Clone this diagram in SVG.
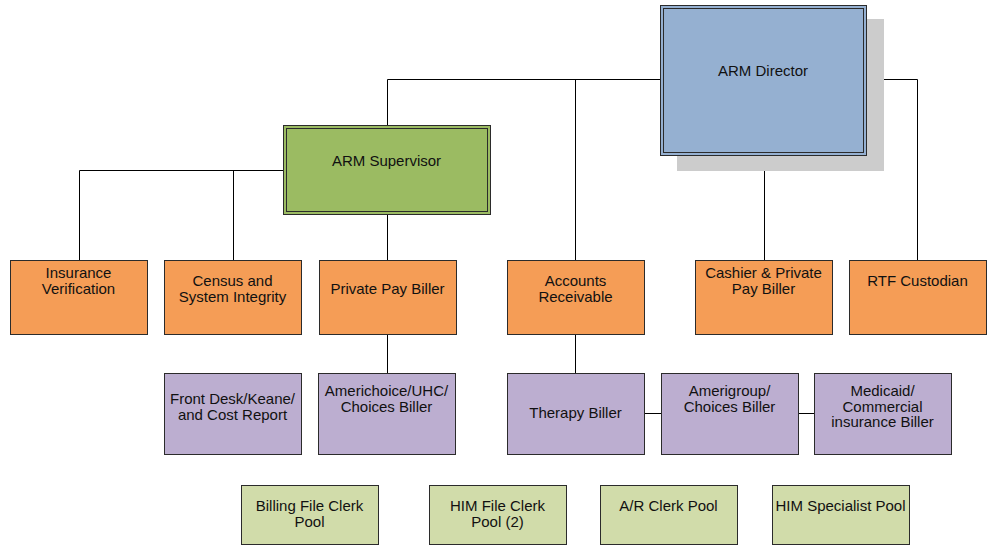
<svg xmlns="http://www.w3.org/2000/svg" width="988" height="546" viewBox="0 0 988 546">
  <style>
    .box { stroke: #2b2b2b; stroke-width: 1; }
    .dir { fill: #95b0d1; }
    .sup { fill: #9bbb62; }
    .ora { fill: #f59d56; }
    .pur { fill: #bcaed0; }
    .grn { fill: #d1dcaa; }
    .inner { fill: none; stroke: #2b2b2b; stroke-width: 1; }
    .conn { stroke: #000; stroke-width: 1; fill: none; }
    text { font-family: "Liberation Sans", Arial, sans-serif; font-size: 15px; fill: #111; text-anchor: middle; }
  </style>

  <!-- connectors -->
  <g id="connectors" class="conn">
    <polyline points="387.5,125 387.5,79.5 660,79.5"/>
    <line x1="575.5" y1="79.5" x2="575.5" y2="260"/>
    <polyline points="866,79.5 917.5,79.5 917.5,260"/>
    <line x1="764.5" y1="155" x2="764.5" y2="260"/>
    <polyline points="283,170.5 79.5,170.5 79.5,260"/>
    <line x1="233.5" y1="170.5" x2="233.5" y2="260"/>
    <line x1="387.5" y1="215" x2="387.5" y2="260"/>
    <line x1="387.5" y1="335" x2="387.5" y2="373"/>
    <line x1="575.5" y1="335" x2="575.5" y2="373"/>
    <line x1="644" y1="413.5" x2="661" y2="413.5"/>
    <line x1="798" y1="413.5" x2="814" y2="413.5"/>
  </g>

  <!-- top level -->
  <g id="arm-director">
    <rect x="677" y="19" width="207" height="152" fill="#cccccc"/>
    <rect class="box dir" x="660.5" y="5.5" width="206" height="150"/>
    <rect class="inner" x="663.5" y="8.5" width="200" height="144"/>
    <text x="763" y="76">ARM Director</text>
  </g>

  <g id="arm-supervisor">
    <rect class="box sup" x="283.5" y="125.5" width="207" height="89"/>
    <rect class="inner" x="286.5" y="128.5" width="201" height="83"/>
    <text x="386.5" y="166">ARM Supervisor</text>
  </g>

  <!-- second row -->
  <g id="insurance-verification">
    <rect class="box ora" x="10.5" y="260.5" width="137" height="74"/>
    <text x="78.5" y="278">Insurance</text>
    <text x="78.5" y="294">Verification</text>
  </g>
  <g id="census-system-integrity">
    <rect class="box ora" x="164.5" y="260.5" width="137" height="74"/>
    <text x="232.5" y="286">Census and</text>
    <text x="232.5" y="302">System Integrity</text>
  </g>
  <g id="private-pay-biller">
    <rect class="box ora" x="319.5" y="260.5" width="137" height="74"/>
    <text x="387.5" y="294">Private Pay Biller</text>
  </g>
  <g id="accounts-receivable">
    <rect class="box ora" x="507.5" y="260.5" width="137" height="74"/>
    <text x="575.5" y="286">Accounts</text>
    <text x="575.5" y="302">Receivable</text>
  </g>
  <g id="cashier-private-pay">
    <rect class="box ora" x="695.5" y="260.5" width="137" height="74"/>
    <text x="763.5" y="278">Cashier &amp; Private</text>
    <text x="763.5" y="294">Pay Biller</text>
  </g>
  <g id="rtf-custodian">
    <rect class="box ora" x="849.5" y="260.5" width="137" height="74"/>
    <text x="917.5" y="286">RTF Custodian</text>
  </g>

  <!-- third row -->
  <g id="front-desk">
    <rect class="box pur" x="164.5" y="373.5" width="137" height="81"/>
    <text x="232.5" y="404">Front Desk/Keane/</text>
    <text x="232.5" y="420">and Cost Report</text>
  </g>
  <g id="americhoice-biller">
    <rect class="box pur" x="318.5" y="373.5" width="137" height="81"/>
    <text x="386.5" y="396">Americhoice/UHC/</text>
    <text x="386.5" y="412">Choices Biller</text>
  </g>
  <g id="therapy-biller">
    <rect class="box pur" x="507.5" y="373.5" width="137" height="81"/>
    <text x="575.5" y="418">Therapy Biller</text>
  </g>
  <g id="amerigroup-biller">
    <rect class="box pur" x="661.5" y="373.5" width="137" height="81"/>
    <text x="729.5" y="396">Amerigroup/</text>
    <text x="729.5" y="412">Choices Biller</text>
  </g>
  <g id="medicaid-biller">
    <rect class="box pur" x="814.5" y="373.5" width="137" height="81"/>
    <text x="882.5" y="396">Medicaid/</text>
    <text x="882.5" y="411.5">Commercial</text>
    <text x="882.5" y="427">insurance Biller</text>
  </g>

  <!-- pools -->
  <g id="billing-file-clerk-pool">
    <rect class="box grn" x="241.5" y="485.5" width="137" height="59"/>
    <text x="309.5" y="511">Billing File Clerk</text>
    <text x="309.5" y="527">Pool</text>
  </g>
  <g id="him-file-clerk-pool">
    <rect class="box grn" x="429.5" y="485.5" width="137" height="59"/>
    <text x="497.5" y="511">HIM File Clerk</text>
    <text x="497.5" y="527">Pool (2)</text>
  </g>
  <g id="ar-clerk-pool">
    <rect class="box grn" x="600.5" y="485.5" width="137" height="59"/>
    <text x="668.5" y="511">A/R Clerk Pool</text>
  </g>
  <g id="him-specialist-pool">
    <rect class="box grn" x="772.5" y="485.5" width="137" height="59"/>
    <text x="840.5" y="511">HIM Specialist Pool</text>
  </g>
</svg>
